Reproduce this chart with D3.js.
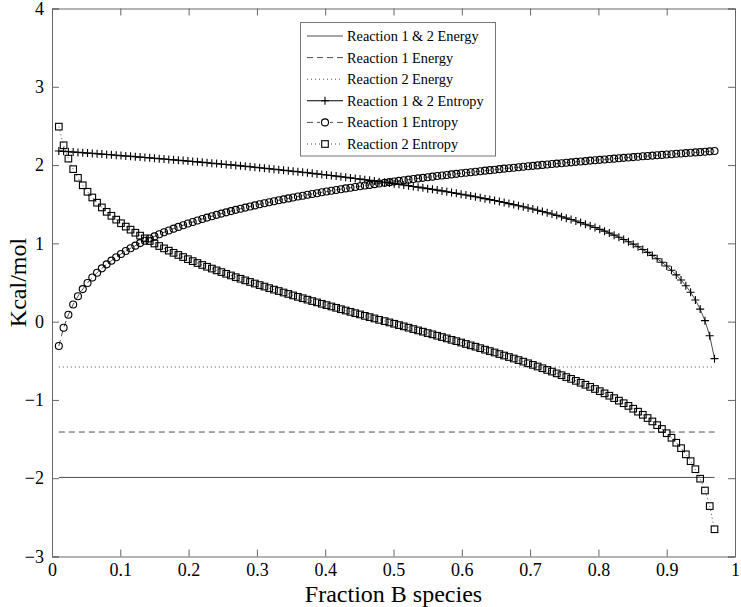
<!DOCTYPE html>
<html>
<head>
<meta charset="utf-8">
<script src="https://cdn.jsdelivr.net/npm/d3@7"></script>
<style>
    body { margin: 0; background: #fff; }
    text { font-family: "Liberation Serif", "Times New Roman", serif; fill: #000; }
</style>
</head>
<body>
<script>
// fraction of B species (x) for every marker
let fraction = [0.010, 0.017, 0.024, 0.031, 0.038, 0.045, 0.052, 0.059, 0.066, 0.073,
    0.080, 0.087, 0.094, 0.101, 0.108, 0.115, 0.122, 0.129, 0.136, 0.143,
    0.150, 0.157, 0.164, 0.171, 0.178, 0.185, 0.192, 0.199, 0.206, 0.213,
    0.220, 0.227, 0.234, 0.241, 0.248, 0.255, 0.262, 0.269, 0.276, 0.283,
    0.290, 0.297, 0.304, 0.311, 0.318, 0.325, 0.332, 0.339, 0.346, 0.353,
    0.360, 0.367, 0.374, 0.381, 0.388, 0.395, 0.402, 0.409, 0.416, 0.423,
    0.430, 0.437, 0.444, 0.451, 0.458, 0.465, 0.472, 0.479, 0.487, 0.494,
    0.501, 0.508, 0.515, 0.522, 0.529, 0.536, 0.543, 0.550, 0.557, 0.564,
    0.571, 0.578, 0.585, 0.592, 0.599, 0.606, 0.613, 0.620, 0.627, 0.634,
    0.641, 0.648, 0.655, 0.662, 0.669, 0.676, 0.683, 0.690, 0.697, 0.704,
    0.711, 0.718, 0.725, 0.732, 0.739, 0.746, 0.753, 0.760, 0.767, 0.774,
    0.781, 0.788, 0.795, 0.802, 0.809, 0.816, 0.823, 0.830, 0.837, 0.844,
    0.851, 0.858, 0.865, 0.872, 0.879, 0.886, 0.893, 0.900, 0.907, 0.914,
    0.921, 0.928, 0.935, 0.942, 0.949, 0.956, 0.963, 0.970];

// Reaction 1 & 2 Entropy (plus markers)
let entropyBoth = [2.180, 2.175, 2.171, 2.167, 2.162, 2.158, 2.153, 2.149, 2.144, 2.140,
    2.135, 2.131, 2.126, 2.121, 2.116, 2.112, 2.107, 2.102, 2.097, 2.092,
    2.087, 2.082, 2.077, 2.072, 2.067, 2.062, 2.057, 2.051, 2.046, 2.041,
    2.035, 2.030, 2.024, 2.019, 2.013, 2.007, 2.002, 1.996, 1.990, 1.984,
    1.978, 1.972, 1.966, 1.960, 1.953, 1.947, 1.941, 1.934, 1.928, 1.921,
    1.915, 1.908, 1.901, 1.894, 1.887, 1.880, 1.873, 1.866, 1.859, 1.851,
    1.844, 1.836, 1.828, 1.821, 1.813, 1.805, 1.797, 1.788, 1.780, 1.772,
    1.763, 1.754, 1.746, 1.737, 1.727, 1.718, 1.709, 1.699, 1.690, 1.680,
    1.670, 1.660, 1.649, 1.639, 1.628, 1.617, 1.606, 1.595, 1.583, 1.571,
    1.559, 1.547, 1.534, 1.521, 1.508, 1.495, 1.481, 1.467, 1.452, 1.438,
    1.423, 1.407, 1.391, 1.375, 1.358, 1.340, 1.322, 1.304, 1.285, 1.265,
    1.245, 1.224, 1.202, 1.179, 1.156, 1.131, 1.105, 1.078, 1.050, 1.021,
    0.990, 0.957, 0.922, 0.885, 0.846, 0.804, 0.759, 0.710, 0.656, 0.597,
    0.532, 0.458, 0.375, 0.277, 0.160, 0.013, -0.181, -0.473];

// Reaction 1 Entropy (circle markers)
let entropy1 = [-0.311, -0.078, 0.089, 0.219, 0.325, 0.416, 0.494, 0.563, 0.625, 0.681,
    0.732, 0.779, 0.823, 0.864, 0.902, 0.937, 0.971, 1.003, 1.033, 1.062,
    1.089, 1.116, 1.141, 1.165, 1.188, 1.210, 1.232, 1.253, 1.273, 1.292,
    1.311, 1.329, 1.346, 1.364, 1.380, 1.396, 1.412, 1.428, 1.442, 1.457,
    1.471, 1.485, 1.499, 1.512, 1.525, 1.538, 1.550, 1.562, 1.574, 1.586,
    1.598, 1.609, 1.620, 1.631, 1.641, 1.652, 1.662, 1.672, 1.682, 1.692,
    1.702, 1.711, 1.720, 1.729, 1.739, 1.747, 1.756, 1.765, 1.773, 1.782,
    1.790, 1.798, 1.806, 1.814, 1.822, 1.830, 1.837, 1.845, 1.852, 1.860,
    1.867, 1.874, 1.881, 1.888, 1.895, 1.902, 1.909, 1.915, 1.922, 1.929,
    1.935, 1.941, 1.948, 1.954, 1.960, 1.966, 1.972, 1.978, 1.984, 1.990,
    1.996, 2.002, 2.008, 2.013, 2.019, 2.024, 2.030, 2.035, 2.041, 2.046,
    2.051, 2.057, 2.062, 2.067, 2.072, 2.077, 2.082, 2.087, 2.092, 2.097,
    2.102, 2.107, 2.112, 2.116, 2.121, 2.126, 2.130, 2.135, 2.139, 2.144,
    2.148, 2.153, 2.157, 2.162, 2.166, 2.170, 2.175, 2.179];

// Reaction 2 Entropy (square markers)
let entropy2 = [2.491, 2.253, 2.082, 1.948, 1.837, 1.742, 1.659, 1.586, 1.519, 1.459,
    1.403, 1.352, 1.303, 1.257, 1.214, 1.175, 1.136, 1.099, 1.064, 1.030,
    0.998, 0.966, 0.936, 0.907, 0.879, 0.852, 0.825, 0.798, 0.773, 0.749,
    0.724, 0.701, 0.678, 0.655, 0.633, 0.611, 0.590, 0.568, 0.548, 0.527,
    0.507, 0.487, 0.467, 0.448, 0.428, 0.409, 0.391, 0.372, 0.354, 0.335,
    0.317, 0.299, 0.281, 0.263, 0.246, 0.228, 0.211, 0.194, 0.177, 0.159,
    0.142, 0.125, 0.108, 0.092, 0.074, 0.058, 0.041, 0.023, 0.007, -0.010,
    -0.027, -0.044, -0.060, -0.077, -0.095, -0.112, -0.128, -0.146, -0.162, -0.180,
    -0.197, -0.214, -0.232, -0.249, -0.267, -0.285, -0.303, -0.320, -0.339, -0.358,
    -0.376, -0.394, -0.414, -0.433, -0.452, -0.471, -0.491, -0.511, -0.532, -0.552,
    -0.573, -0.595, -0.617, -0.638, -0.661, -0.684, -0.708, -0.731, -0.756, -0.781,
    -0.806, -0.833, -0.860, -0.888, -0.916, -0.946, -0.977, -1.009, -1.042, -1.076,
    -1.112, -1.150, -1.190, -1.231, -1.275, -1.322, -1.371, -1.425, -1.483, -1.547,
    -1.616, -1.695, -1.782, -1.885, -2.006, -2.157, -2.356, -2.652];

// energies are constant over the range
let energyRange = [0.01, 0.97];
let energyBoth = -1.99;
let energy1 = -1.41;
let energy2 = -0.58;

let xTicks = [0, 0.1, 0.2, 0.3, 0.4, 0.5, 0.6, 0.7, 0.8, 0.9, 1];
let xTickLabels = ["0", "0.1", "0.2", "0.3", "0.4", "0.5", "0.6", "0.7", "0.8", "0.9", "1"];
let yTicks = [-3, -2, -1, 0, 1, 2, 3, 4];
let yTickLabels = ["\u22123", "\u22122", "\u22121", "0", "1", "2", "3", "4"];

let legendNames = ["Reaction 1 & 2 Energy", "Reaction 1 Energy", "Reaction 2 Energy",
    "Reaction 1 & 2 Entropy", "Reaction 1 Entropy", "Reaction 2 Entropy"];

run();

function run() {
    let width = 741;
    let height = 607;
    let margin = { top: 8.5, right: 6, bottom: 50.5, left: 52 };
    let w = width - margin.left - margin.right;
    let h = height - margin.top - margin.bottom;

    let svg = d3.select("body")
        .append("svg")
        .attr("width", width)
        .attr("height", height);

    let g = svg.append("g")
        .attr("transform", "translate(" + margin.left + "," + margin.top + ")");

    let x = d3.scaleLinear().domain([0, 1]).range([0, w]);
    let y = d3.scaleLinear().domain([-3, 4]).range([h, 0]);

    drawAxes(g, x, y, w, h);

    // constant energy lines
    let flat = function (v) {
        return energyRange.map(function (e) { return [e, v]; });
    };
    drawLine(g, x, y, flat(energyBoth), null);
    drawLine(g, x, y, flat(energy1), "6,4");
    drawLine(g, x, y, flat(energy2), "1,3");

    // entropy curves
    drawLine(g, x, y, d3.zip(fraction, entropyBoth), null);
    drawLine(g, x, y, d3.zip(fraction, entropy1), "6,4");
    drawLine(g, x, y, d3.zip(fraction, entropy2), "1,3");

    d3.zip(fraction, entropyBoth).forEach(function (d) {
        drawMarker(g, "plus", x(d[0]), y(d[1]));
    });
    d3.zip(fraction, entropy1).forEach(function (d) {
        drawMarker(g, "circle", x(d[0]), y(d[1]));
    });
    d3.zip(fraction, entropy2).forEach(function (d) {
        drawMarker(g, "square", x(d[0]), y(d[1]));
    });

    drawLegend(svg);

    // axis titles
    svg.append("text")
        .attr("x", margin.left + w / 2)
        .attr("y", 602)
        .attr("text-anchor", "middle")
        .attr("font-size", "24px")
        .text("Fraction B species");

    svg.append("text")
        .attr("transform", "translate(26," + (margin.top + h / 2) + ") rotate(-90)")
        .attr("text-anchor", "middle")
        .attr("font-size", "24px")
        .text("Kcal/mol");
}

function drawAxes(g, x, y, w, h) {
    let bottom = d3.axisBottom(x)
        .tickValues(xTicks)
        .tickFormat(function (d, i) { return xTickLabels[i]; })
        .tickSize(-7)
        .tickPadding(7);
    let left = d3.axisLeft(y)
        .tickValues(yTicks)
        .tickFormat(function (d, i) { return yTickLabels[i]; })
        .tickSize(-7)
        .tickPadding(8);
    let top = d3.axisTop(x).tickValues(xTicks).tickFormat("").tickSize(-7);
    let right = d3.axisRight(y).tickValues(yTicks).tickFormat("").tickSize(-7);

    g.append("g").attr("transform", "translate(0," + h + ")").call(bottom);
    g.append("g").call(left);
    g.append("g").call(top);
    g.append("g").attr("transform", "translate(" + w + ",0)").call(right);

    g.selectAll(".domain").attr("stroke", "#666");
    g.selectAll(".tick line").attr("stroke", "#666");
    g.selectAll(".tick text")
        .attr("font-family", "Liberation Serif")
        .attr("font-size", "18px")
        .attr("fill", "#000");
}

function drawLine(g, x, y, points, dash) {
    let line = d3.line()
        .x(function (d) { return x(d[0]); })
        .y(function (d) { return y(d[1]); });
    g.append("path")
        .attr("d", line(points))
        .attr("fill", "none")
        .attr("stroke", "#000")
        .attr("stroke-width", 0.7)
        .attr("stroke-dasharray", dash);
}

function drawMarker(g, kind, cx, cy) {
    if (kind == "circle") {
        g.append("circle")
            .attr("cx", cx).attr("cy", cy).attr("r", 3.5)
            .attr("fill", "none").attr("stroke", "#000").attr("stroke-width", 1.1);
    } else if (kind == "square") {
        g.append("rect")
            .attr("x", cx - 3.3).attr("y", cy - 3.3)
            .attr("width", 6.6).attr("height", 6.6)
            .attr("fill", "none").attr("stroke", "#000").attr("stroke-width", 1.1);
    } else {
        g.append("path")
            .attr("d", "M" + (cx - 4) + "," + cy + "H" + (cx + 4)
                + "M" + cx + "," + (cy - 4) + "V" + (cy + 4))
            .attr("stroke", "#000").attr("stroke-width", 1.1);
    }
}

function drawLegend(svg) {
    let lg = svg.append("g");
    lg.append("rect")
        .attr("x", 300.5).attr("y", 22.5)
        .attr("width", 195).attr("height", 133.5)
        .attr("fill", "#fff").attr("stroke", "#777");

    let dashes = [null, "6,4", "1,3", null, "6,4", "1,3"];
    let markers = [null, null, null, "plus", "circle", "square"];

    for (let i = 0; i < legendNames.length; i++) {
        let ly = 36 + i * 21.6;
        lg.append("line")
            .attr("x1", 307).attr("x2", 343)
            .attr("y1", ly).attr("y2", ly)
            .attr("stroke", "#000").attr("stroke-width", i == 3 ? 1.1 : 0.7)
            .attr("stroke-dasharray", dashes[i]);
        if (markers[i]) {
            if (markers[i] != "plus") {
                lg.append("rect")
                    .attr("x", 320).attr("y", ly - 4)
                    .attr("width", 10).attr("height", 8)
                    .attr("fill", "#fff");
            }
            drawMarker(lg, markers[i], 325, ly);
        }
        lg.append("text")
            .attr("x", 347)
            .attr("y", ly)
            .attr("dy", "0.35em")
            .attr("font-size", "14.3px")
            .text(legendNames[i]);
    }
}
</script>
</body>
</html>
